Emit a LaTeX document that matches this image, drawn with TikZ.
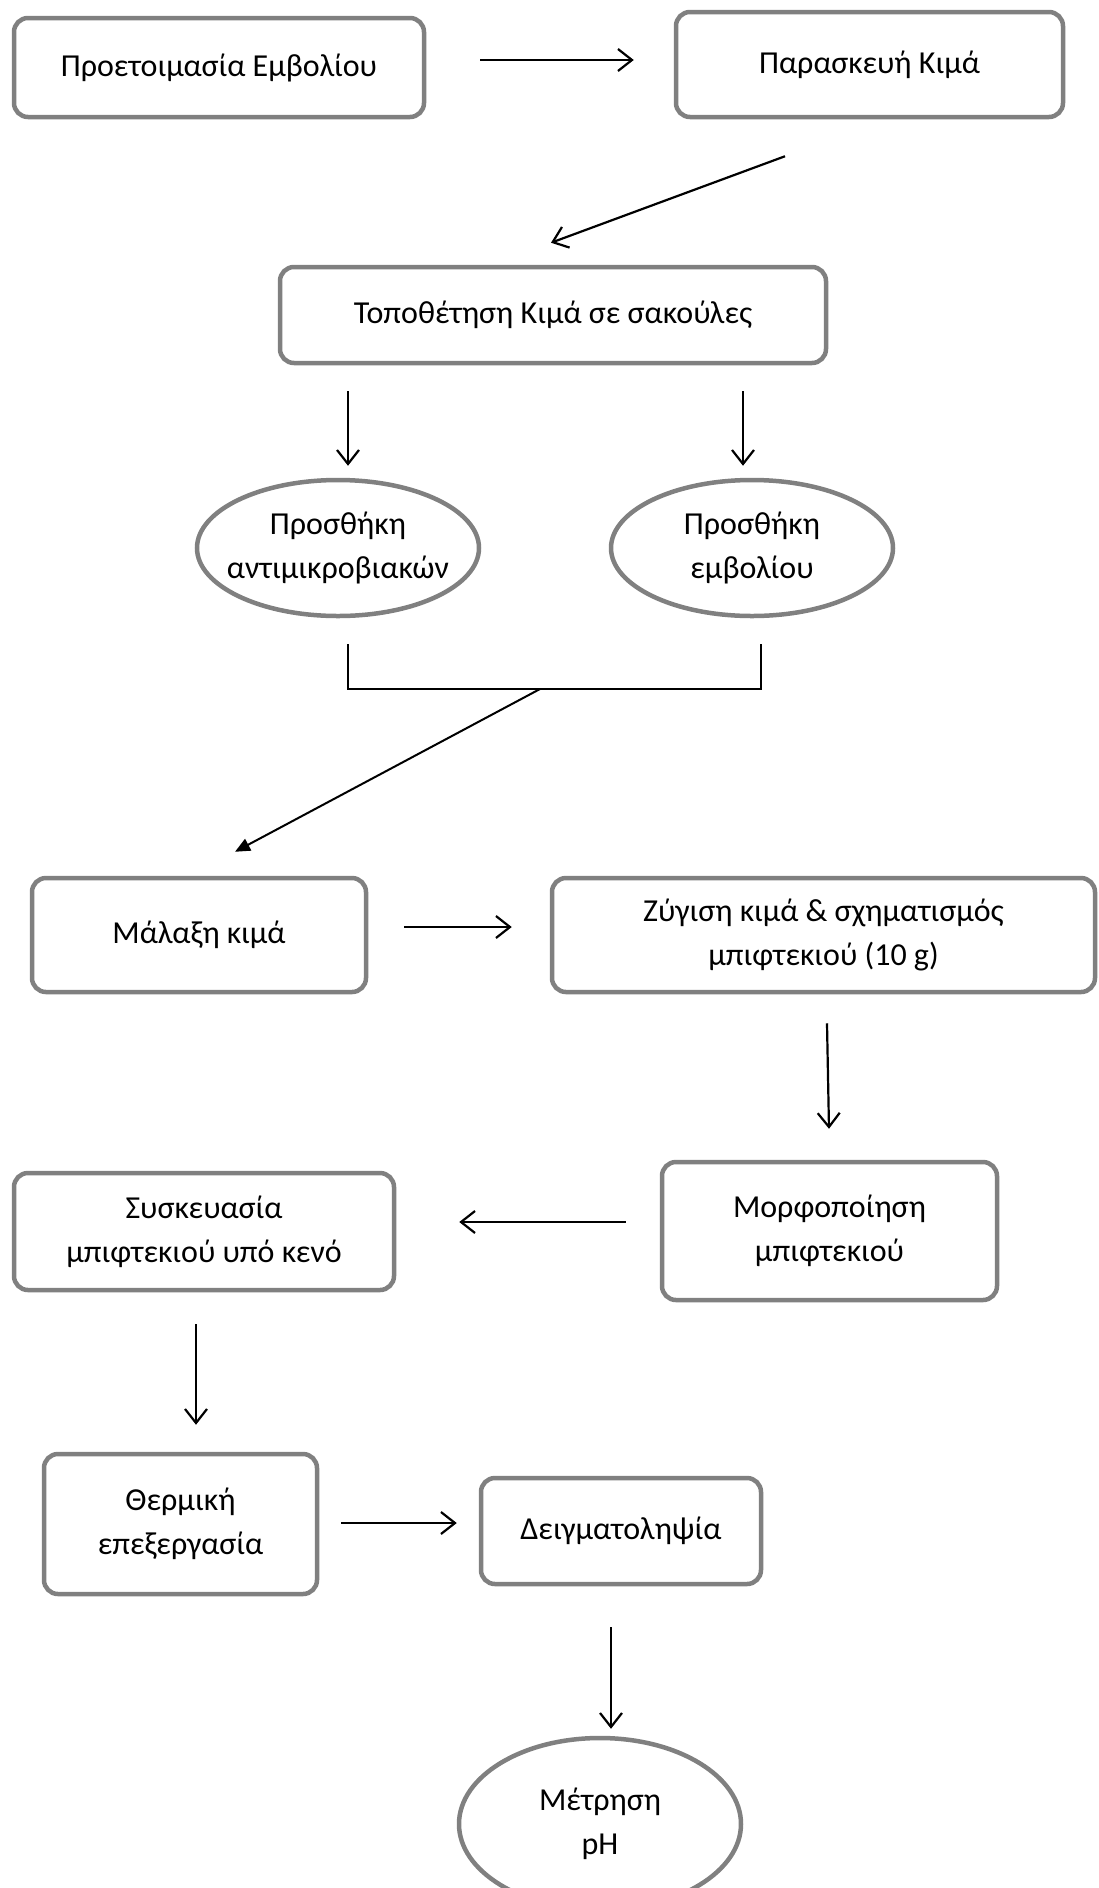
\documentclass[tikz,border=0pt]{standalone}
\usepackage{fontspec}
\setmainfont{Carlito}
\usetikzlibrary{arrows.meta,shapes.geometric}
\definecolor{boxgray}{HTML}{808080}
\tikzset{
	stepbox/.style={draw=boxgray, line width=4.5pt, rounded corners=14pt, inner sep=0pt, align=center, font=\fontsize{32}{44}\selectfont},
	stepoval/.style={draw=boxgray, line width=4.5pt, ellipse, inner xsep=-20pt, inner ysep=0pt, align=center, font=\fontsize{32}{44}\selectfont},
	arr/.style={line width=2.2pt, -{Straight Barb[length=14pt,width=22pt]}},
	arrfill/.style={line width=2pt, -{Triangle[length=15pt,width=13pt]}},
}

\begin{document}
\begin{tikzpicture}[x=1pt, y=-1pt]
		%%%%% START %%%%%
		\useasboundingbox (0, 0) rectangle (1099, 1888);
		
		\node[stepbox, minimum width=410, minimum height=99] (prep) at (219, 67.5) {Προετοιμασία Εμβολίου};
		\node[stepbox, minimum width=387, minimum height=105] (mince) at (869.5, 64.5) {Παρασκευή Κιμά};
		\node[stepbox, minimum width=546, minimum height=96] (bags) at (553, 315) {Τοποθέτηση Κιμά σε σακούλες};
		
		\node[stepoval, minimum width=282, minimum height=136] (antimic) at (338, 548) {Προσθήκη\\αντιμικροβιακών};
		\node[stepoval, minimum width=282, minimum height=136] (vacc) at (752, 548) {Προσθήκη\\εμβολίου};
		
		\node[stepbox, minimum width=334, minimum height=114] (knead) at (199, 935) {Μάλαξη κιμά};
		\node[stepbox, minimum width=543, minimum height=114] (weigh) at (823.5, 935) {Ζύγιση κιμά \& σχηματισμός\\μπιφτεκιού (10 g)};
		\node[stepbox, minimum width=335, minimum height=138] (shape) at (829.5, 1231) {Μορφοποίηση\\μπιφτεκιού};
		\node[stepbox, minimum width=380, minimum height=117] (pack) at (204, 1231.5) {Συσκευασία\\μπιφτεκιού υπό κενό};
		\node[stepbox, minimum width=273, minimum height=140] (heat) at (180.5, 1524) {Θερμική\\επεξεργασία};
		\node[stepbox, minimum width=280, minimum height=106] (sample) at (621, 1531) {Δειγματοληψία};
		\node[stepoval, minimum width=282, minimum height=172] (ph) at (600, 1824) {Μέτρηση\\pH};
		
		\draw[arr] ([shift={(54, -7.5)}]prep.east) -- ([shift={(-40, -4.5)}]mince.west);
		\draw[arr] ([shift={(-84.5, 37)}]mince.south) -- ([shift={(-2, -22)}]bags.north);
		\draw[arr] ([shift={(-205, 26)}]bags.south) -- ([shift={(10, -12)}]antimic.north);
		\draw[arr] ([shift={(190, 26)}]bags.south) -- ([shift={(-9, -12)}]vacc.north);
		
		\draw[line width=1.6pt] ([shift={(10, 26)}]antimic.south) |- ([shift={(9, 71)}]vacc.south) -- ([shift={(9, 26)}]vacc.south);
		\coordinate (join) at (540, 689);
		\draw[arrfill] (join) -- ([shift={(36, -24)}]knead.north);
		
		\draw[arr] ([shift={(36, -8)}]knead.east) -- ([shift={(-38, -8)}]weigh.west);
		\draw[arr] ([shift={(3.5, 29)}]weigh.south) -- ([shift={(-0.5, -31)}]shape.north);
		\draw[arr] ([shift={(-34, -9)}]shape.west) -- ([shift={(63, -9.5)}]pack.east);
		\draw[arr] ([shift={(-8, 32)}]pack.south) -- ([shift={(15.5, -27)}]heat.north);
		\draw[arr] ([shift={(22, -1)}]heat.east) -- ([shift={(-22, -8)}]sample.west);
		\draw[arr] ([shift={(-10, 41)}]sample.south) -- ([shift={(11, -7)}]ph.north);
		%%%%% END %%%%%
\end{tikzpicture}
\end{document}
